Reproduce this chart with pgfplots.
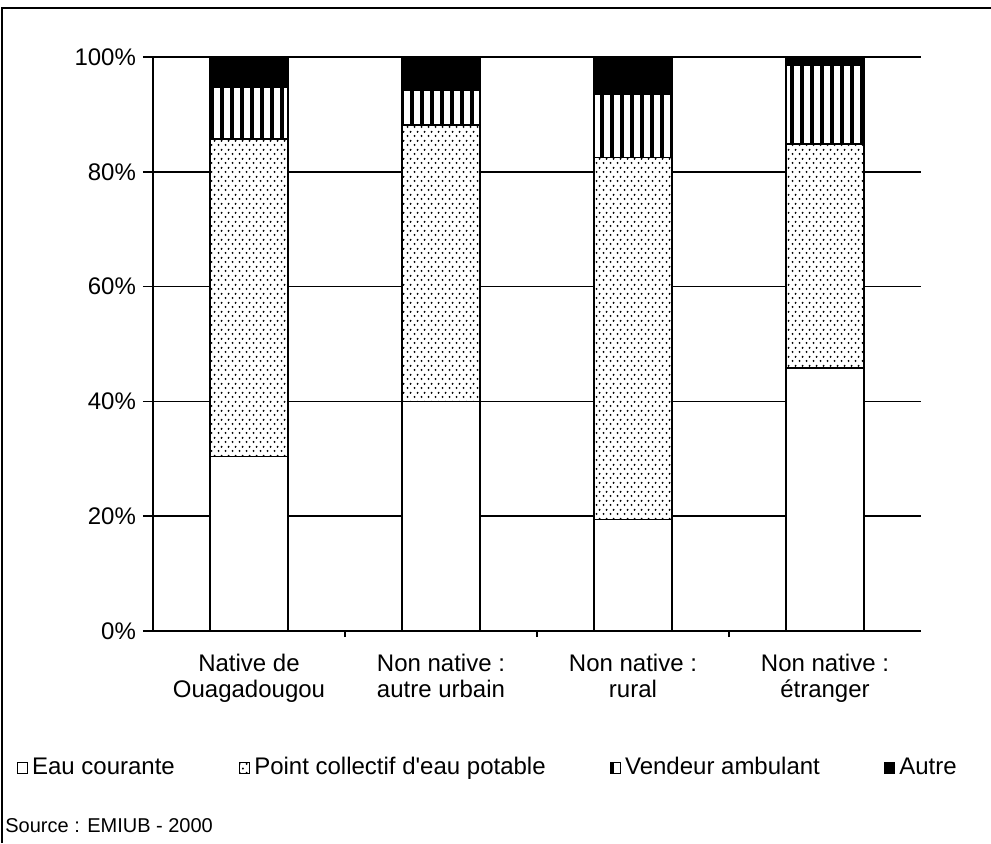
\documentclass[border=0pt]{standalone}
\usepackage{fontspec}
\setmainfont{Liberation Sans}
\usepackage{pgfplots}
\pgfplotsset{compat=1.18}
\usetikzlibrary{patterns}

% staggered dots and thick vertical stripes, as in the old bitmap chart
\pgfdeclarepatternformonly{dotgrid}{\pgfpointorigin}{\pgfpoint{3.5pt}{4.3pt}}{\pgfpoint{3.5pt}{4.3pt}}{%
  \pgfpathcircle{\pgfpoint{0.875pt}{1.075pt}}{0.58pt}%
  \pgfpathcircle{\pgfpoint{2.625pt}{3.225pt}}{0.58pt}%
  \pgfusepath{fill}}
\pgfdeclarepatternformonly{vstripes}{\pgfpoint{0pt}{-0.1pt}}{\pgfpoint{5pt}{1.1pt}}{\pgfpoint{5pt}{1pt}}{%
  \pgfpathrectangle{\pgfpoint{0pt}{-0.1pt}}{\pgfpoint{2pt}{1.2pt}}%
  \pgfusepath{fill}}

\pgfplotstableread{
x eau point vendeur autre
0 30.4 55.3 9.0 5.3
1 40.0 48.2 6.1 5.7
2 19.4 63.1 11.0 6.5
3 45.8 39.0 13.8 1.4
}\datatable

\begin{document}
\begin{tikzpicture}
\useasboundingbox (-76.5pt,-106pt) rectangle (419pt,315.5pt);
\draw[line width=0.8pt] (-75.5pt,-106pt) -- (-75.5pt,311.5pt) -- (419pt,311.5pt);

\begin{axis}[
  at={(0,0)}, anchor=south west,
  scale only axis, width=384pt, height=287pt,
  ybar stacked, bar width=39pt,
  xmin=-0.5, xmax=3.5, ymin=0, ymax=100,
  enlargelimits=false, clip=false,
  axis x line*=bottom, axis y line*=left,
  axis line style={-, black, line width=0.8pt},
  xtick={0,1,2,3},
  xticklabels={{Native de\\Ouagadougou},{Non native :\\autre urbain},{Non native :\\rural},{Non native :\\étranger}},
  minor xtick={0.5,1.5,2.5},
  major x tick style={draw=none},
  minor x tick style={black, line width=0.8pt},
  xtick align=outside, ytick align=outside,
  minor tick length=3pt, major tick length=5pt,
  ytick={0,20,40,60,80,100},
  yticklabels={0\%,20\%,40\%,60\%,80\%,100\%},
  y tick style={black, line width=0.8pt},
  ymajorgrids, major grid style={black, line width=0.8pt},
  ticklabel style={font=\fontsize{12}{13}\selectfont},
  xticklabel style={align=center, yshift=-3pt},
  legend style={at={(axis description cs:-0.178,-0.2387)}, anchor=west,
    draw=none, fill=none, inner sep=0pt, legend columns=-1,
    font=\fontsize{12}{13}\selectfont,
    nodes={text height=9pt, text depth=2.5pt},
    /tikz/every even column/.append style={column sep=30pt}},
  legend image code/.code={\draw[#1, line width=0.5pt] (0pt,-2.7pt) rectangle (5.2pt,2.7pt);},
  every axis plot/.append style={draw=black, line width=0.8pt},
]
\addplot[fill=white] table[x=x, y=eau] {\datatable};
\addplot[fill=white, postaction={pattern=dotgrid}] table[x=x, y=point] {\datatable};
\addplot[fill=white, postaction={pattern=vstripes}] table[x=x, y=vendeur] {\datatable};
\addplot[fill=black] table[x=x, y=autre] {\datatable};
\legend{Eau courante, Point collectif d\textquotesingle eau potable, Vendeur ambulant, Autre}
\end{axis}

\node[anchor=west, font=\fontsize{10}{12}\selectfont, inner sep=0pt] at (-74pt,-97.5pt) {Source : EMIUB - 2000};
\end{tikzpicture}
\end{document}
